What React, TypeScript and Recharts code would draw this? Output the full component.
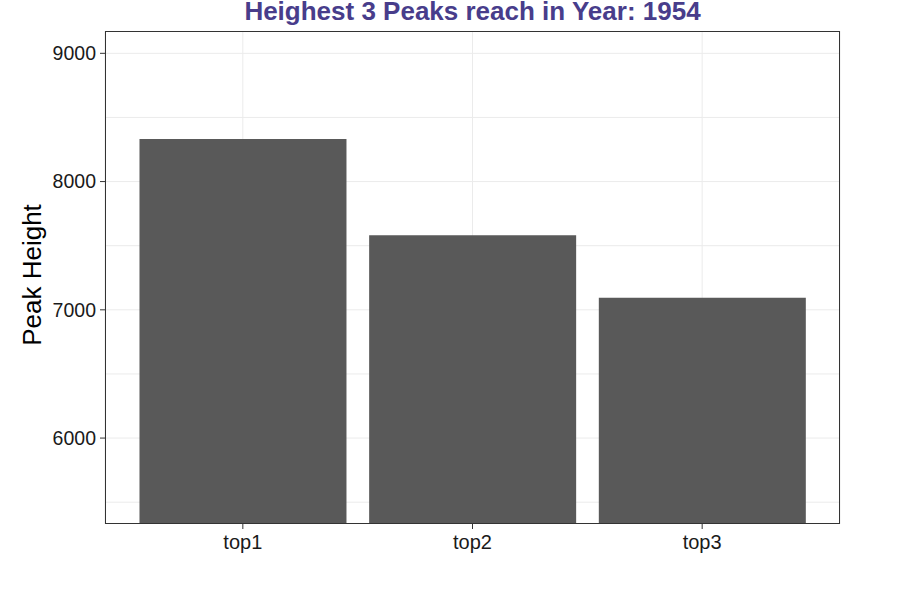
import { BarChart, Bar, XAxis, YAxis, CartesianGrid } from 'recharts';

const categories = ['top1', 'top2', 'top3'];
const peakHeights = [8332, 7581, 7095];
const yTicks = [6000, 7000, 8000, 9000];
const gridValues = [5500, 6000, 6500, 7000, 7500, 8000, 8500, 9000];

const data = categories.map((name, i) => ({ name, height: peakHeights[i] }));

const FONT = '"Liberation Sans", Arial, sans-serif';

const App = () => {
  return (
    <div style={{ position: 'absolute', left: 0, top: 0, width: 919, height: 590, background: '#fff', fontFamily: FONT, overflow: 'hidden' }}>
      <BarChart
        width={919}
        height={590}
        data={data}
        margin={{ top: 31, right: 79, bottom: 36, left: 0 }}
        barCategoryGap="5%"
      >
        <CartesianGrid stroke="#EBEBEB" strokeWidth={1} horizontalValues={gridValues} />
        <XAxis
          dataKey="name"
          height={30}
          padding={{ left: 23, right: 23 }}
          axisLine={false}
          tickLine={{ stroke: '#333333' }}
          tickSize={5}
          tickMargin={6}
          tick={{ fill: '#1a1a1a', fontSize: 20, fontFamily: FONT }}
        />
        <YAxis
          width={105}
          type="number"
          domain={[5330, 9174]}
          allowDataOverflow
          ticks={yTicks}
          axisLine={false}
          tickLine={{ stroke: '#333333' }}
          tickSize={5}
          tickMargin={4}
          tick={{ fill: '#1a1a1a', fontSize: 19.5, fontFamily: FONT }}
        />
        <Bar dataKey="height" fill="#595959" isAnimationActive={false} />
      </BarChart>
      <div
        style={{
          position: 'absolute', left: 105, top: 31, width: 735, height: 493,
          border: '1px solid #333333', boxSizing: 'border-box', pointerEvents: 'none'
        }}
      />
      <div
        style={{
          position: 'absolute', left: 105, top: 0, width: 735, textAlign: 'center',
          fontSize: 26, lineHeight: '22px', fontWeight: 'bold', color: '#483D8B', whiteSpace: 'nowrap'
        }}
      >
        Heighest 3 Peaks reach in Year: 1954
      </div>
      <div
        style={{
          position: 'absolute', left: 32, top: 275, transform: 'translate(-50%, -50%) rotate(-90deg)',
          fontSize: 26, lineHeight: 1, color: '#000', whiteSpace: 'nowrap'
        }}
      >
        Peak Height
      </div>
    </div>
  );
};

export default App;
